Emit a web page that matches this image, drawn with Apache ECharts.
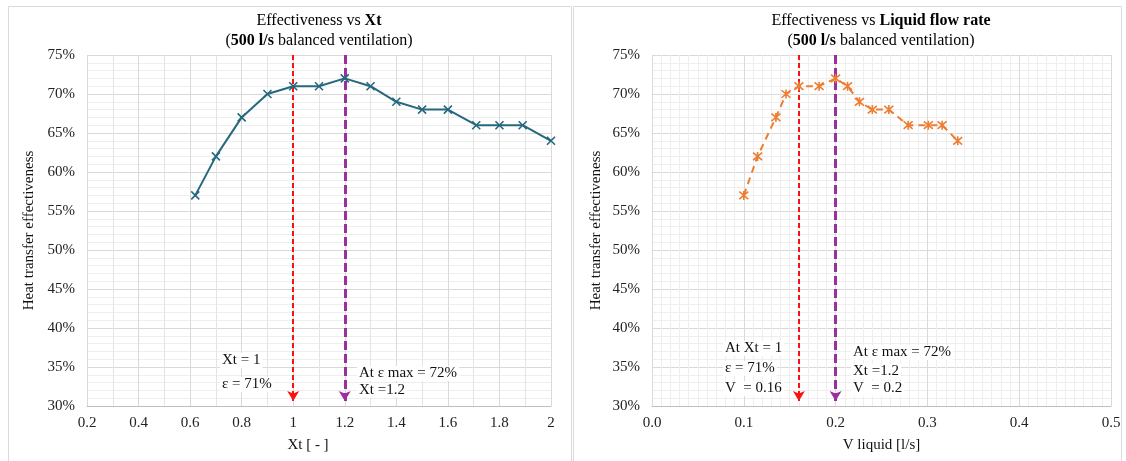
<!DOCTYPE html>
<html>
<head>
<meta charset="utf-8">
<script src="https://cdn.jsdelivr.net/npm/echarts@6/dist/echarts.min.js"></script>
<style>
  html, body { margin: 0; padding: 0; background: #fff; }
  #chart { width: 1126px; height: 461px; }
</style>
</head>
<body>
<div id="chart"></div>
<script>
// Effectiveness measured at 500 l/s balanced ventilation
const xtValues   = [0.62, 0.7, 0.8, 0.9, 1.0, 1.1, 1.2, 1.3, 1.4, 1.5, 1.6, 1.71, 1.8, 1.89, 2.0];
const effByXt    = [57, 62, 67, 70, 71, 71, 72, 71, 69, 68, 68, 66, 66, 66, 64];
const vLiquid    = [0.1, 0.115, 0.135, 0.146, 0.16, 0.182, 0.2, 0.213, 0.226, 0.24, 0.258, 0.279, 0.301, 0.316, 0.333];
const effByV     = [57, 62, 67, 70, 71, 71, 72, 71, 69, 68, 68, 66, 66, 66, 64];

// reference markers: Xt = 1 and maximum effectiveness
const xtAtOne = 1.0, xtAtMax = 1.2;
const vAtOne = 0.16, vAtMax = 0.2;

const yMin = 30, yMax = 75, yStep = 5;
const xtMin = 0.2, xtMax = 2.0, xtStep = 0.2;
const vMin = 0.0, vMax = 0.5, vStep = 0.1;

const FONT = "'Liberation Serif', 'Times New Roman', serif";
const TEAL = '#26687D';
const ORANGE = '#ED7D31';
const RED = '#FF1010';
const PURPLE = '#9A2F9E';
const MAJOR = '#D9D9D9';
const MINOR = '#EEEEEE';

const pairs = (xs, ys) => xs.map((x, i) => [x, ys[i]]);

const crossPath = 'path://M0,0L10,10M10,0L0,10';
const starPath = 'path://M0,0L10,10M10,0L0,10M5,-1L5,11';

// arrowheads are centred on the line end, so stop a little above the axis
const tipPad = 0.65;

function arrowLine(x, color, dash, width) {
  return [
    { coord: [x, yMax], lineStyle: { color: color, type: dash, width: width } },
    { coord: [x, yMin + tipPad] }
  ];
}

function xAxisBase(gridIndex, min, max, step, name, minorSplit, minorColor, fmt) {
  return {
    type: 'value', gridIndex: gridIndex, min: min, max: max, interval: step,
    name: name, nameLocation: 'middle', nameGap: 32,
    nameTextStyle: { fontFamily: FONT, fontSize: 15, color: '#111' },
    axisLine: { show: true, lineStyle: { color: '#BFBFBF', width: 1 } },
    axisTick: { show: false },
    axisLabel: { fontFamily: FONT, fontSize: 15, color: '#222', margin: 10, formatter: fmt },
    splitLine: { show: true, lineStyle: { color: MAJOR, width: 1 } },
    minorTick: { show: false, splitNumber: minorSplit },
    minorSplitLine: { show: true, lineStyle: { color: minorColor, width: 1 } }
  };
}

function yAxisBase(gridIndex, gap) {
  return {
    type: 'value', gridIndex: gridIndex, min: yMin, max: yMax, interval: yStep,
    name: 'Heat transfer effectiveness', nameLocation: 'middle', nameGap: gap,
    nameTextStyle: { fontFamily: FONT, fontSize: 15, color: '#111' },
    axisLine: { show: false },
    axisTick: { show: false },
    axisLabel: { fontFamily: FONT, fontSize: 15, color: '#222', margin: 12, formatter: v => v + '%' },
    splitLine: { show: true, lineStyle: { color: MAJOR, width: 1 } },
    minorTick: { show: false, splitNumber: 5 },
    minorSplitLine: { show: true, lineStyle: { color: MINOR, width: 1 } }
  };
}

const titleRich = {
  n: { fontFamily: FONT, fontSize: 16, color: '#111', lineHeight: 20 },
  b: { fontFamily: FONT, fontSize: 16, fontWeight: 'bold', color: '#111', lineHeight: 20 }
};

// annotation lines sit on a white box so the grid does not run through them
function note(x, y, text) {
  return {
    type: 'text', left: x, top: y, silent: true, z: 100,
    style: { text: text, font: '15px ' + FONT, fill: '#111',
             backgroundColor: '#fff', padding: [0, 2, 0, 2] }
  };
}

const chart = echarts.init(document.getElementById('chart'));
chart.setOption({
  animation: false,
  backgroundColor: '#fff',
  grid: [
    { left: 87, top: 55, width: 464, height: 351 },
    { left: 652, top: 55, width: 459, height: 351 }
  ],
  xAxis: [
    Object.assign(xAxisBase(0, xtMin, xtMax, xtStep, 'Xt [ - ]', 2, '#E4E4E4', null),
      { nameTextStyle: { fontFamily: FONT, fontSize: 15, color: '#111', padding: [0, 22, 0, 0] } }),
    xAxisBase(1, vMin, vMax, vStep, 'V liquid [l/s]', 10, MINOR, v => v.toFixed(1))
  ],
  yAxis: [yAxisBase(0, 50), yAxisBase(1, 48)],
  series: [
    {
      type: 'line', xAxisIndex: 0, yAxisIndex: 0,
      data: pairs(xtValues, effByXt),
      symbol: crossPath, symbolSize: 8,
      itemStyle: { color: 'rgba(0,0,0,0)', borderColor: TEAL, borderWidth: 1.6 },
      lineStyle: { color: TEAL, width: 2 },
      z: 5,
      markLine: {
        silent: true, symbol: ['none', 'arrow'], symbolSize: [9, 10],
        label: { show: false },
        data: [
          arrowLine(xtAtOne, RED, [5, 3], 2),
          arrowLine(xtAtMax, PURPLE, [9, 4], 3)
        ]
      }
    },
    {
      type: 'line', xAxisIndex: 1, yAxisIndex: 1,
      data: pairs(vLiquid, effByV),
      symbol: starPath, symbolSize: 9,
      itemStyle: { color: 'rgba(0,0,0,0)', borderColor: ORANGE, borderWidth: 1.6 },
      lineStyle: { color: ORANGE, width: 2, type: [7, 5] },
      z: 5,
      markLine: {
        silent: true, symbol: ['none', 'arrow'], symbolSize: [9, 10],
        label: { show: false },
        data: [
          arrowLine(vAtOne, RED, [5, 3], 2),
          arrowLine(vAtMax, PURPLE, [9, 4], 3)
        ]
      }
    }
  ],
  graphic: [
    { type: 'rect', shape: { x: 8.5, y: 6.5, width: 563, height: 470 }, silent: true,
      style: { fill: 'none', stroke: '#DADADA', lineWidth: 1 } },
    { type: 'rect', shape: { x: 573.5, y: 6.5, width: 548, height: 470 }, silent: true,
      style: { fill: 'none', stroke: '#DADADA', lineWidth: 1 } },
    { type: 'text', x: 319, y: 11, silent: true,
      style: { text: '{n|Effectiveness vs }{b|Xt}\n{n|(}{b|500 l/s}{n| balanced ventilation)}',
               align: 'center', verticalAlign: 'top', rich: titleRich } },
    { type: 'text', x: 881, y: 11, silent: true,
      style: { text: '{n|Effectiveness vs }{b|Liquid flow rate}\n{n|(}{b|500 l/s}{n| balanced ventilation)}',
               align: 'center', verticalAlign: 'top', rich: titleRich } },
    note(220, 353, 'Xt = 1'),
    note(220, 377, 'ε = 71%'),
    note(357, 366, 'At ε max = 72%'),
    note(357, 383, 'Xt =1.2'),
    note(723, 341, 'At Xt = 1'),
    note(723, 361, 'ε = 71%'),
    note(723, 381, 'V  = 0.16'),
    note(851, 345, 'At ε max = 72%'),
    note(851, 364, 'Xt =1.2'),
    note(851, 381, 'V  = 0.2')
  ]
});
</script>
</body>
</html>
